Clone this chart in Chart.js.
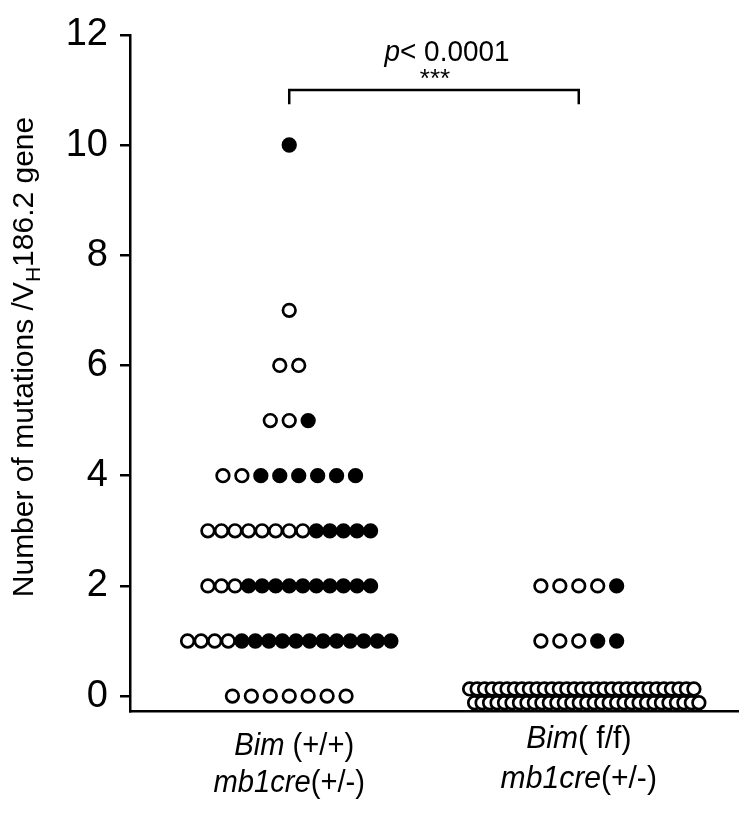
<!DOCTYPE html>
<html>
<head>
<meta charset="utf-8">
<script src="https://cdn.jsdelivr.net/npm/chart.js@4.4.1/dist/chart.umd.min.js"></script>
<style>
  html, body { margin: 0; padding: 0; background: #fff; }
  #wrap { width: 747px; height: 815px; }
</style>
</head>
<body>
<div id="wrap"><canvas id="c" width="747" height="815"></canvas></div>
<script>
// ---- data ----
const groupPositions = [1, 2];
// Bim(+/+) mb1cre(+/-)
const g1Levels = [0, 1, 2, 3, 4, 5, 6, 7, 10];
const g1Open   = [7, 4, 3, 8, 2, 2, 2, 1, 0];
const g1Filled = [0, 12, 10, 5, 6, 1, 0, 0, 1];
// Bim(f/f) mb1cre(+/-)
const g2Levels = [0, 1, 2];
const g2Open   = [62, 3, 4];
const g2Filled = [0, 2, 1];
const yTicks = [0, 2, 4, 6, 8, 10, 12];
const catLine1 = [[['Bim', true], [' (+/+)', false]], [['Bim', true], ['( f/f)', false]]];
const catLine2 = [[['mb1cre', true], ['(+/-)', false]], [['mb1cre', true], ['(+/-)', false]]];
const yTitleRuns = [['Number of mutations /V', false, 0], ['H', false, 1], ['186.2 gene', false, 0]];
const pText = [['p', true], ['< 0.0001', false]];
const starText = '***';

// ---- layout helpers (dot-plot spreading) ----
const X_MIN = 0.45, X_MAX = 2.55;
const PX_PER_UNIT = 610 / (X_MAX - X_MIN);
function buildRows(center, levels, opens, filleds) {
  const open = [], filled = [];
  levels.forEach((lv, k) => {
    const nO = opens[k], nF = filleds[k], n = nO + nF;
    if (n === 0) return;
    const pts = [];
    if (n > 30) {
      const top = Math.ceil(n / 2), bot = n - top, sp = 7.5;
      for (let i = 0; i < top; i++) pts.push({x: center + ((i - (top - 1) / 2) * sp + 3) / PX_PER_UNIT, y: lv + 0.13});
      for (let i = 0; i < bot; i++) pts.push({x: center + ((i - (bot - 1) / 2) * sp + 8) / PX_PER_UNIT, y: lv - 0.12});
    } else {
      const sp = n <= 8 ? 19 : 13.6;
      for (let i = 0; i < n; i++) pts.push({x: center + ((i - (n - 1) / 2) * sp) / PX_PER_UNIT, y: lv});
    }
    pts.forEach((p, i) => (i < nO ? open : filled).push(p));
  });
  return {open, filled};
}
const r1 = buildRows(groupPositions[0], g1Levels, g1Open, g1Filled);
const r2 = buildRows(groupPositions[1], g2Levels, g2Open, g2Filled);

const FONT = 'Arial, "Liberation Sans", sans-serif';
// draws mixed italic/upright runs centred at (cx, cy), horizontally scaled by hs
function drawRuns(ctx, runs, cx, cy, size, hs) {
  ctx.save();
  ctx.translate(cx, cy);
  ctx.scale(hs, 1);
  let w = 0;
  runs.forEach(r => { ctx.font = (r[1] ? 'italic ' : '') + size + 'px ' + FONT; w += ctx.measureText(r[0]).width; });
  let x = -w / 2;
  ctx.textBaseline = 'middle'; ctx.textAlign = 'left'; ctx.fillStyle = '#000';
  runs.forEach(r => { ctx.font = (r[1] ? 'italic ' : '') + size + 'px ' + FONT; ctx.fillText(r[0], x, 0); x += ctx.measureText(r[0]).width; });
  ctx.restore();
}

const annot = {
  id: 'annot',
  afterDraw(chart) {
    const ctx = chart.ctx, xs = chart.scales.x, ys = chart.scales.y, ca = chart.chartArea;
    // category labels
    const sizes = [31, 32], off1 = [35, 28], off2 = [72, 68];
    groupPositions.forEach((g, i) => {
      const px = xs.getPixelForValue(g);
      drawRuns(ctx, catLine1[i], px + (i === 0 ? 5 : 0), ca.bottom + off1[i], sizes[i], 0.94);
      drawRuns(ctx, catLine2[i], px, ca.bottom + off2[i], sizes[i], 0.94);
    });
    // y axis title with subscript
    ctx.save();
    ctx.translate(25, 357);
    ctx.rotate(-Math.PI / 2);
    const size = 30, sub = 21;
    let w = 0;
    yTitleRuns.forEach(r => { ctx.font = (r[2] ? sub : size) + 'px ' + FONT; w += ctx.measureText(r[0]).width; });
    let x = -w / 2;
    ctx.textBaseline = 'middle'; ctx.fillStyle = '#000'; ctx.textAlign = 'left';
    yTitleRuns.forEach(r => { ctx.font = (r[2] ? sub : size) + 'px ' + FONT; ctx.fillText(r[0], x, r[2] ? 9 : 0); x += ctx.measureText(r[0]).width; });
    ctx.restore();
    // significance bracket
    ctx.save();
    const xa = xs.getPixelForValue(groupPositions[0]), xb = xs.getPixelForValue(groupPositions[1]);
    const yt = ys.getPixelForValue(11.0), yl = ys.getPixelForValue(10.74);
    ctx.strokeStyle = '#000'; ctx.lineWidth = 2.5;
    ctx.beginPath(); ctx.moveTo(xa, yl); ctx.lineTo(xa, yt); ctx.lineTo(xb, yt); ctx.lineTo(xb, yl); ctx.stroke();
    ctx.restore();
    drawRuns(ctx, pText, (xa + xb) / 2 + 13, ys.getPixelForValue(11.68), 30, 0.93);
    drawRuns(ctx, [[starText, false]], (xa + xb) / 2 + 1, ys.getPixelForValue(11.18), 26, 1);
  }
};

const openStyle = {backgroundColor: '#fff', borderColor: '#000', pointRadius: 6.3, pointBorderWidth: 2.7, pointHoverRadius: 6.3};
const filledStyle = {backgroundColor: '#000', borderColor: '#000', pointRadius: 6.3, pointBorderWidth: 2.7, pointHoverRadius: 6.3};

new Chart(document.getElementById('c'), {
  type: 'scatter',
  data: {
    datasets: [
      Object.assign({label: 'g1 open', data: r1.open}, openStyle),
      Object.assign({label: 'g1 filled', data: r1.filled}, filledStyle),
      Object.assign({label: 'g2 open', data: r2.open}, openStyle),
      Object.assign({label: 'g2 filled', data: r2.filled}, filledStyle)
    ]
  },
  options: {
    responsive: false,
    animation: false,
    devicePixelRatio: 1,
    layout: {padding: {top: 32, right: 7, left: 0, bottom: 0}},
    plugins: {legend: {display: false}, tooltip: {enabled: false}},
    scales: {
      x: {
        type: 'linear', min: X_MIN, max: X_MAX,
        ticks: {display: false},
        grid: {display: true, drawOnChartArea: false, drawTicks: false},
        border: {display: true, color: '#000', width: 2.5},
        afterFit(s) { s.height = 104; }
      },
      y: {
        type: 'linear', min: -0.27, max: 12,
        afterBuildTicks(s) { s.ticks = yTicks.map(v => ({value: v})); },
        ticks: {color: '#000', font: {size: 38, family: FONT}, padding: 12},
        grid: {display: true, drawOnChartArea: false, drawTicks: true, tickLength: 10, color: '#000', lineWidth: 2.5},
        border: {display: true, color: '#000', width: 2.5},
        afterFit(s) { s.width = 130; }
      }
    }
  },
  plugins: [annot]
});
</script>
</body>
</html>
